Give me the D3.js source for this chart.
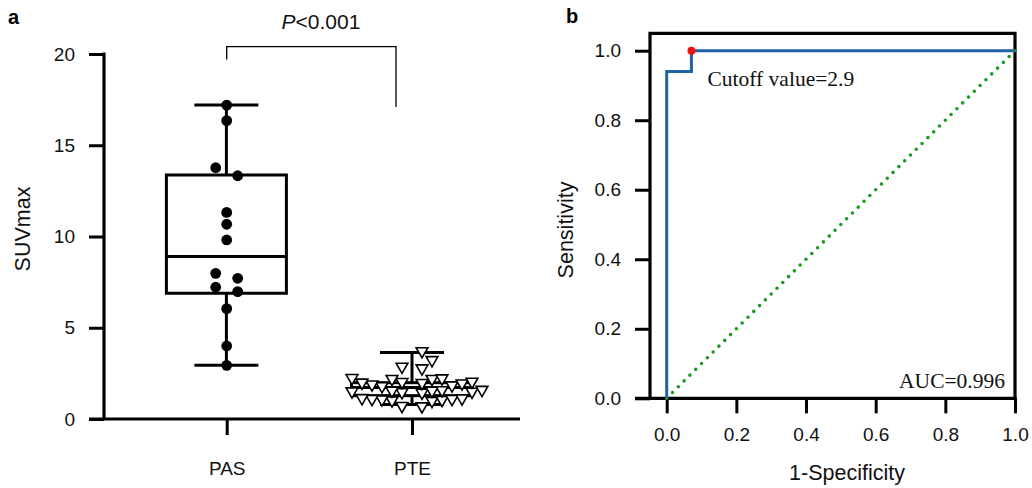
<!DOCTYPE html>
<html>
<head>
<meta charset="utf-8">
<script src="https://cdn.jsdelivr.net/npm/d3@7"></script>
<style>
  body { margin: 0; background: #fff; }
  svg { font-family: "Liberation Sans", Arial, sans-serif; }
</style>
</head>
<body>
<div id="chart-area"></div>
<script>
// ---- data ----
var groups = ["PAS", "PTE"];
var pasValues = [17.2, 16.35, 13.77, 13.33, 11.32, 10.67, 9.81, 7.98, 7.71, 7.22, 6.98, 6.05, 4.0, 2.94];
var pteValues = [3.72, 3.23, 2.87, 2.78, 2.25, 2.23, 2.2, 2.2, 2.05, 2.03, 2.0, 1.98, 1.95, 1.9,
                 1.85, 1.8, 1.6, 1.58, 1.55, 1.55, 1.52, 1.5, 1.48, 1.45, 1.15, 1.13, 1.1, 1.1,
                 1.08, 1.05, 1.02, 1.0, 0.72, 0.7];
// min, q1, median, q3, max
var pasBox = [2.94, 6.89, 8.9, 13.37, 17.2];
var pteBox = [0.8, 1.28, 1.72, 1.99, 3.65];
var suvTicks = [0, 5, 10, 15, 20];

var rocX = [0, 0, 0.071, 0.071, 1];
var rocY = [0, 0.94, 0.94, 1, 1];
var cutoffPoint = [0.071, 1];
var rocTicks = [0, 0.2, 0.4, 0.6, 0.8, 1.0];

var svg = d3.select("#chart-area")
    .append("svg")
        .attr("width", 1032)
        .attr("height", 488);

// ================= panel a =================
var ga = svg.append("g");

var y = d3.scaleLinear().domain([0, 20]).range([419, 54]);
var x = d3.scalePoint().domain(groups).range([226.7, 412]);

// Y axis
var yAxis = ga.append("g")
    .attr("transform", "translate(104,0)")
    .call(d3.axisLeft(y).tickValues(suvTicks).tickSize(15).tickPadding(14).tickSizeOuter(0));
yAxis.select(".domain").remove();
yAxis.selectAll(".tick line").attr("stroke", "#000").attr("stroke-width", 3);
yAxis.selectAll("text").attr("font-size", "19px").attr("fill", "#111");
ga.append("line")
    .attr("x1", 104).attr("x2", 104)
    .attr("y1", y(20) - 1.5).attr("y2", y(0))
    .attr("stroke", "#000").attr("stroke-width", 3.2);

// X axis
var xAxis = ga.append("g")
    .attr("transform", "translate(0," + y(0) + ")")
    .call(d3.axisBottom(x).tickSize(16).tickPadding(27).tickSizeOuter(0));
xAxis.select(".domain").remove();
xAxis.selectAll(".tick line").attr("stroke", "#000").attr("stroke-width", 3);
xAxis.selectAll("text").attr("font-size", "19px").attr("fill", "#111");
ga.append("line")
    .attr("x1", 89).attr("x2", 520)
    .attr("y1", y(0)).attr("y2", y(0))
    .attr("stroke", "#000").attr("stroke-width", 3.2);

// Y label
ga.append("text")
    .attr("transform", "translate(30," + 229 + ") rotate(-90)")
    .attr("text-anchor", "middle")
    .attr("font-size", "21.5px")
    .attr("fill", "#111")
    .text("SUVmax");

// panel letter
ga.append("text")
    .attr("x", 8).attr("y", 24)
    .attr("font-size", "20px").attr("font-weight", "bold")
    .text("a");

// box plots
function drawBox(stats, cx, halfW, capHalf) {
    var b = ga.append("g")
        .attr("fill", "none").attr("stroke", "#000").attr("stroke-width", 3);
    b.append("line").attr("x1", cx).attr("x2", cx)
        .attr("y1", y(stats[0])).attr("y2", y(stats[1]));
    b.append("line").attr("x1", cx).attr("x2", cx)
        .attr("y1", y(stats[3])).attr("y2", y(stats[4]));
    b.append("line").attr("x1", cx - capHalf).attr("x2", cx + capHalf)
        .attr("y1", y(stats[0])).attr("y2", y(stats[0]));
    b.append("line").attr("x1", cx - capHalf).attr("x2", cx + capHalf)
        .attr("y1", y(stats[4])).attr("y2", y(stats[4]));
    b.append("rect")
        .attr("x", cx - halfW).attr("width", halfW * 2)
        .attr("y", y(stats[3])).attr("height", y(stats[1]) - y(stats[3]));
    b.append("line").attr("x1", cx - halfW).attr("x2", cx + halfW)
        .attr("y1", y(stats[2])).attr("y2", y(stats[2]));
}
drawBox(pasBox, x("PAS") - 0.3, 60, 32);
drawBox(pteBox, x("PTE"), 60.5, 32);

// simple beeswarm: points with a close neighbour are never centred,
// others try 0 first; then +1, -1, +2, -2 ... steps
function swarm(vals, step, dmin) {
    var placed = [];
    var sorted = vals.slice().sort(d3.ascending);
    sorted.forEach(function(v) {
        var py = y(v);
        var crowded = sorted.some(function(w) {
            return w !== v && Math.abs(y(w) - py) < dmin;
        }) || sorted.filter(function(w){ return w === v; }).length > 1;
        for (var k = crowded ? 1 : 0; k < 40; k++) {
            var n = Math.ceil(k / 2) * (k % 2 ? 1 : -1);
            var dx = n * step;
            var ok = placed.every(function(p) {
                return (p.dx - dx) * (p.dx - dx) + (p.py - py) * (p.py - py) >= dmin * dmin;
            });
            if (ok) { placed.push({ v: v, dx: dx, py: py }); break; }
        }
    });
    return placed;
}

var pasPts = swarm(pasValues, 11, 10.5);
ga.selectAll("circle.pas")
    .data(pasPts)
    .enter().append("circle")
        .attr("class", "pas")
        .attr("cx", function(d){ return x("PAS") + d.dx; })
        .attr("cy", function(d){ return d.py; })
        .attr("r", 5.4)
        .attr("fill", "#000");

var ptePts = swarm(pteValues, 10, 9.5);
var tri = d3.symbol().type(d3.symbolTriangle).size(60);
ga.selectAll("path.pte")
    .data(ptePts)
    .enter().append("path")
        .attr("class", "pte")
        .attr("d", tri)
        .attr("transform", function(d){
            return "translate(" + (x("PTE") + d.dx) + "," + d.py + ") rotate(180)";
        })
        .attr("fill", "#fff")
        .attr("stroke", "#000")
        .attr("stroke-width", 1.6);

// significance bracket
ga.append("path")
    .attr("d", "M" + x("PAS") + "," + y(19.7) + "V" + y(20.4) + "H" + (x("PTE") - 16) + "V" + y(17.1))
    .attr("fill", "none").attr("stroke", "#000").attr("stroke-width", 1.3);
var pt = ga.append("text")
    .attr("x", 321).attr("y", 29)
    .attr("text-anchor", "middle")
    .attr("font-size", "21px")
    .attr("fill", "#111");
pt.append("tspan").attr("font-style", "italic").text("P");
pt.append("tspan").text("<0.001");

// ================= panel b =================
var gb = svg.append("g");

var rx = d3.scaleLinear().domain([0, 1]).range([666.7, 1015]);
var ry = d3.scaleLinear().domain([0, 1]).range([398.3, 50.7]);
var frameLeft = 650, frameTop = 33.3;

// frame
gb.append("path")
    .attr("d", "M" + frameLeft + "," + ry(0) + "V" + frameTop + "H" + rx(1) + "V" + ry(0))
    .attr("fill", "none").attr("stroke", "#000").attr("stroke-width", 3.2);

var ryAxis = gb.append("g")
    .attr("transform", "translate(" + frameLeft + ",0)")
    .call(d3.axisLeft(ry).tickValues(rocTicks).tickFormat(d3.format(".1f"))
        .tickSize(15).tickPadding(14).tickSizeOuter(0));
ryAxis.select(".domain").remove();
ryAxis.selectAll(".tick line").attr("stroke", "#000").attr("stroke-width", 3);
ryAxis.selectAll("text").attr("font-size", "19px").attr("fill", "#111");

var rxAxis = gb.append("g")
    .attr("transform", "translate(0," + ry(0) + ")")
    .call(d3.axisBottom(rx).tickValues(rocTicks).tickFormat(d3.format(".1f"))
        .tickSize(15).tickPadding(14).tickSizeOuter(0));
rxAxis.select(".domain").remove();
rxAxis.selectAll(".tick line").attr("stroke", "#000").attr("stroke-width", 3);
rxAxis.selectAll("text").attr("font-size", "19px").attr("fill", "#111");
gb.append("line")
    .attr("x1", 635).attr("x2", rx(1) + 1.6)
    .attr("y1", ry(0)).attr("y2", ry(0))
    .attr("stroke", "#000").attr("stroke-width", 3.2);

// reference diagonal
gb.append("line")
    .attr("x1", rx(0)).attr("y1", ry(0))
    .attr("x2", rx(1)).attr("y2", ry(1))
    .attr("stroke", "#1d9a22").attr("stroke-width", 3.6)
    .attr("stroke-linecap", "round")
    .attr("stroke-dasharray", "0,8.2");

// ROC curve
var rocData = rocX.map(function(d, i){ return [d, rocY[i]]; });
gb.append("path")
    .datum(rocData)
    .attr("d", d3.line().x(function(d){ return rx(d[0]); }).y(function(d){ return ry(d[1]); }))
    .attr("fill", "none")
    .attr("stroke", "#2062a2")
    .attr("stroke-width", 3);

gb.append("circle")
    .attr("cx", rx(cutoffPoint[0])).attr("cy", ry(cutoffPoint[1]))
    .attr("r", 4).attr("fill", "#f01010");

gb.append("text")
    .attr("x", 707.5).attr("y", 86)
    .attr("font-family", "Liberation Serif, Times New Roman, serif")
    .attr("font-size", "21.5px").attr("fill", "#111")
    .text("Cutoff value=2.9");
gb.append("text")
    .attr("x", 1005).attr("y", 388)
    .attr("text-anchor", "end")
    .attr("font-family", "Liberation Serif, Times New Roman, serif")
    .attr("font-size", "21.5px").attr("fill", "#111")
    .text("AUC=0.996");

gb.append("text")
    .attr("transform", "translate(573,230) rotate(-90)")
    .attr("text-anchor", "middle")
    .attr("font-size", "21.5px").attr("fill", "#111")
    .text("Sensitivity");
gb.append("text")
    .attr("x", 847).attr("y", 480)
    .attr("text-anchor", "middle")
    .attr("font-size", "21.5px").attr("fill", "#111")
    .text("1-Specificity");

gb.append("text")
    .attr("x", 566).attr("y", 23)
    .attr("font-size", "20px").attr("font-weight", "bold")
    .text("b");
</script>
</body>
</html>
